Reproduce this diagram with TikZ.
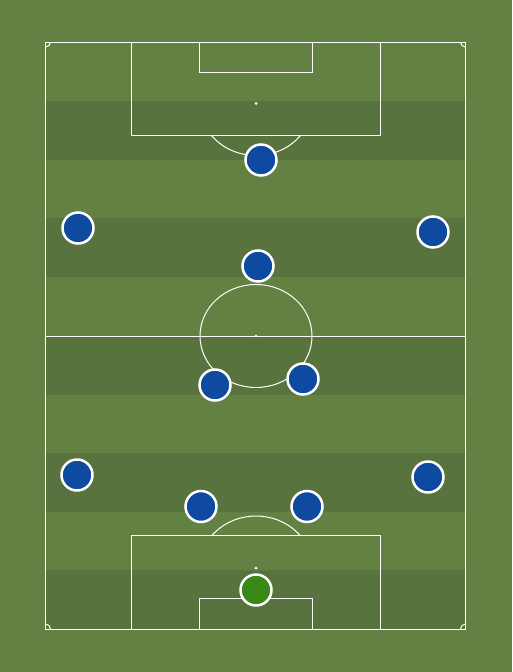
\documentclass[tikz,border=0pt]{standalone}
\usetikzlibrary{shadows}
\definecolor{grasslight}{RGB}{99,129,66}
\definecolor{grassdark}{RGB}{89,115,62}
\definecolor{shirtblue}{RGB}{13,74,160}
\definecolor{keepergreen}{RGB}{58,138,24}
\tikzset{
	pitchline/.style={white, line width=1pt},
	player/.style={circle, draw=white, line width=2.5pt, minimum size=31pt, inner sep=0pt, fill=shirtblue, drop shadow={opacity=0.3, shadow xshift=0.5pt, shadow yshift=-1pt}},
	keeper/.style={player, fill=keepergreen},
}
\begin{document}
\begin{tikzpicture}[x=1pt,y=-1pt]
	
	\fill[grasslight] (0,0) rectangle (512,672);
	\useasboundingbox (0,0) rectangle (512,672);
	
	\fill[grassdark] (45.5,101) rectangle (465.5,160);
	\fill[grassdark] (45.5,218) rectangle (465.5,277);
	\fill[grassdark] (45.5,336) rectangle (465.5,394.5);
	\fill[grassdark] (45.5,453) rectangle (465.5,511.5);
	\fill[grassdark] (45.5,570) rectangle (465.5,629);
	
	\draw[pitchline] (45.5,42) rectangle (465.5,629);
	\draw[pitchline] (45.5,336) -- (465.5,336);
	\draw[pitchline] (256,336) ellipse[x radius=56, y radius=51.5];
	\fill[white] (256,336) circle[radius=1.3];
	
	\draw[pitchline] (131.5,42) rectangle (380.5,135.5);
	\draw[pitchline] (199.5,42) rectangle (312.5,72.5);
	\fill[white] (256,103.5) circle[radius=1.5];
	\begin{scope}
		\clip (0,135.5) rectangle (512,200);
		\draw[pitchline] (256,103.5) ellipse[x radius=56.5, y radius=52];
	\end{scope}
	
	\draw[pitchline] (131.5,535.5) rectangle (380.5,629);
	\draw[pitchline] (199.5,598.5) rectangle (312.5,629);
	\fill[white] (256,568) circle[radius=1.5];
	\begin{scope}
		\clip (0,470) rectangle (512,535.5);
		\draw[pitchline] (256,568) ellipse[x radius=56.5, y radius=52];
	\end{scope}
	
	\begin{scope}
		\clip (45.5,42) rectangle (465.5,629);
		\draw[pitchline] (45.5,42) circle[radius=5];
		\draw[pitchline] (465.5,42) circle[radius=5];
		\draw[pitchline] (45.5,629) circle[radius=5];
		\draw[pitchline] (465.5,629) circle[radius=5];
	\end{scope}
	
	\node[player] (st) at (261,160) {};
	\node[player] (lw) at (78,228) {};
	\node[player] (rw) at (433,232) {};
	\node[player] (cam) at (258,266) {};
	\node[player] (ldm) at (215,385) {};
	\node[player] (rdm) at (303,379) {};
	\node[player] (lwb) at (77,475) {};
	\node[player] (rwb) at (428,477) {};
	\node[player] (lcb) at (201,506.5) {};
	\node[player] (rcb) at (307,506.5) {};
	\node[keeper] (gk) at (256,590) {};
	
\end{tikzpicture}
\end{document}
